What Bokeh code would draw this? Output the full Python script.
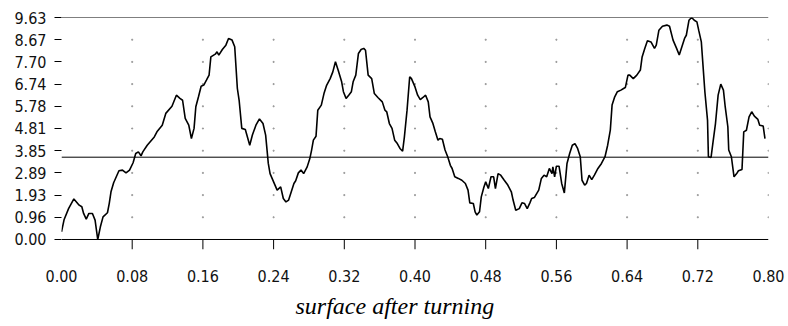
from bokeh.plotting import figure
from bokeh.models import Range1d, FixedTicker, Span, Title
from bokeh.embed import file_html
from bokeh.resources import INLINE

# ---- data ----
X = [0.000, 0.003, 0.008, 0.014, 0.020, 0.023, 0.025, 0.028, 0.031, 0.035,
     0.038, 0.041, 0.044, 0.047, 0.052, 0.054, 0.056, 0.059, 0.065, 0.069,
     0.073, 0.077, 0.081, 0.084, 0.087, 0.090, 0.092, 0.097, 0.105, 0.108,
     0.114, 0.118, 0.125, 0.130, 0.134, 0.137, 0.140, 0.144, 0.147, 0.150,
     0.152, 0.155, 0.158, 0.161, 0.164, 0.167, 0.169, 0.174, 0.176, 0.178,
     0.182, 0.186, 0.189, 0.193, 0.196, 0.199, 0.201, 0.204, 0.208, 0.213,
     0.216, 0.220, 0.224, 0.228, 0.231, 0.234, 0.236, 0.240, 0.244, 0.248,
     0.251, 0.254, 0.257, 0.260, 0.263, 0.265, 0.268, 0.271, 0.274, 0.278,
     0.281, 0.283, 0.285, 0.288, 0.290, 0.294, 0.297, 0.300, 0.304, 0.307,
     0.310, 0.313, 0.317, 0.319, 0.322, 0.325, 0.328, 0.330, 0.333, 0.336,
     0.339, 0.342, 0.344, 0.347, 0.351, 0.354, 0.358, 0.363, 0.366, 0.368,
     0.371, 0.374, 0.377, 0.380, 0.383, 0.386, 0.388, 0.391, 0.394, 0.396,
     0.400, 0.403, 0.406, 0.409, 0.412, 0.415, 0.417, 0.420, 0.423, 0.426,
     0.428, 0.431, 0.434, 0.437, 0.440, 0.442, 0.445, 0.449, 0.453, 0.457,
     0.460, 0.462, 0.466, 0.468, 0.470, 0.473, 0.475, 0.478, 0.480, 0.483,
     0.486, 0.489, 0.491, 0.494, 0.497, 0.501, 0.505, 0.509, 0.511, 0.514,
     0.518, 0.521, 0.524, 0.527, 0.530, 0.532, 0.535, 0.540, 0.543, 0.546,
     0.549, 0.552, 0.555, 0.556, 0.558, 0.560, 0.563, 0.566, 0.569, 0.572,
     0.575, 0.578, 0.581, 0.584, 0.587, 0.589, 0.592, 0.594, 0.597, 0.600,
     0.603, 0.607, 0.611, 0.615, 0.618, 0.621, 0.623, 0.626, 0.629, 0.633,
     0.636, 0.638, 0.641, 0.643, 0.647, 0.651, 0.655, 0.657, 0.660, 0.663,
     0.667, 0.671, 0.673, 0.676, 0.680, 0.685, 0.688, 0.692, 0.696, 0.699,
     0.702, 0.705, 0.707, 0.710, 0.713, 0.716, 0.719, 0.721, 0.724, 0.726,
     0.728, 0.731, 0.732, 0.735, 0.737, 0.740, 0.743, 0.746, 0.749, 0.751,
     0.754, 0.755, 0.758, 0.761, 0.764, 0.766, 0.770, 0.772, 0.775, 0.778,
     0.781, 0.784, 0.788, 0.790, 0.794, 0.796]
Y = [0.33, 0.87, 1.34, 1.76, 1.49, 1.42, 1.13, 0.88, 1.13, 1.13,
     0.84, 0.00, 0.55, 0.98, 1.16, 1.56, 2.07, 2.46, 2.98, 3.01,
     2.89, 3.01, 3.33, 3.73, 3.80, 3.63, 3.80, 4.09, 4.45, 4.67,
     4.96, 5.47, 5.78, 6.26, 6.12, 6.04, 5.25, 4.96, 4.38, 4.82,
     5.76, 6.19, 6.65, 6.70, 6.91, 7.13, 7.92, 8.04, 8.14, 8.00,
     8.24, 8.43, 8.72, 8.65, 8.36, 6.55, 6.04, 4.82, 4.77, 4.09,
     4.53, 4.96, 5.23, 5.03, 4.53, 3.30, 2.86, 2.50, 2.14, 2.28,
     1.78, 1.63, 1.71, 2.07, 2.43, 2.55, 2.89, 3.01, 2.86, 3.15,
     3.51, 3.88, 4.31, 4.48, 5.61, 5.83, 6.33, 6.69, 6.98, 7.27,
     7.71, 7.35, 6.84, 6.41, 6.12, 6.26, 6.41, 6.84, 7.13, 8.07,
     8.24, 8.29, 8.21, 7.13, 6.98, 6.33, 6.16, 5.97, 5.61, 5.54,
     5.03, 4.82, 4.31, 4.16, 3.95, 3.83, 4.45, 5.61, 7.06, 6.98,
     6.62, 6.26, 6.07, 6.16, 6.26, 5.97, 5.32, 5.06, 4.67, 4.31,
     4.38, 4.35, 3.88, 3.59, 3.22, 3.08, 2.72, 2.65, 2.57, 2.43,
     2.14, 1.59, 1.56, 1.20, 1.06, 1.20, 1.85, 2.28, 2.50, 2.21,
     2.72, 2.72, 2.21, 2.86, 2.79, 2.57, 2.36, 2.07, 1.71, 1.27,
     1.34, 1.59, 1.56, 1.34, 1.59, 1.78, 1.82, 2.14, 2.65, 2.79,
     2.72, 3.08, 2.86, 3.15, 2.72, 3.18, 3.18, 2.43, 2.02, 3.30,
     3.73, 4.09, 4.16, 3.95, 3.59, 2.57, 2.36, 2.43, 2.79, 2.60,
     2.79, 3.08, 3.30, 3.59, 4.09, 4.74, 5.83, 6.19, 6.41, 6.48,
     6.55, 6.59, 7.13, 7.13, 6.98, 7.13, 7.35, 7.92, 8.29, 8.62,
     8.57, 8.29, 8.43, 9.08, 9.25, 9.30, 9.25, 8.65, 8.29, 8.00,
     8.36, 8.72, 8.86, 9.51, 9.63, 9.51, 9.44, 9.08, 8.57, 7.49,
     6.41, 5.18, 3.59, 3.56, 4.16, 5.03, 6.26, 6.74, 6.48, 5.76,
     4.89, 3.88, 3.59, 2.72, 2.86, 2.98, 3.04, 4.67, 4.74, 5.32,
     5.54, 5.35, 5.21, 4.96, 4.92, 4.38]

MEAN = 3.57
Y_MAX = 9.63

X_TICKS = [0.00, 0.08, 0.16, 0.24, 0.32, 0.40, 0.48, 0.56, 0.64, 0.72, 0.80]
X_LABELS = ["0.00", "0.08", "0.16", "0.24", "0.32", "0.40", "0.48", "0.56",
            "0.64", "0.72", "0.80"]
Y_TICKS = [0.0, 0.963, 1.926, 2.889, 3.852, 4.815, 5.778, 6.741, 7.704, 8.667, 9.63]
Y_LABELS = ["0.00", "0.96", "1.93", "2.89", "3.85", "4.81", "5.78", "6.74",
            "7.70", "8.67", "9.63"]
TITLE = "surface after turning"

TICK_FONT = "DejaVu Sans Condensed"
TICK_SIZE = "16px"
# length of the x tick marks below the zero line, in y units (about 10 px)
X_TICK_LEN = 0.434

p = figure(width=788, height=326, output_backend="svg", toolbar_location=None,
           x_range=Range1d(0, 0.8), y_range=Range1d(-X_TICK_LEN, Y_MAX),
           min_border_left=61, min_border_right=20, min_border_top=17,
           min_border_bottom=77)
p.title.visible = False
p.outline_line_color = None
p.background_fill_color = "white"
p.border_fill_color = "white"
p.xgrid.visible = False
p.ygrid.visible = False

# y axis
ya = p.yaxis[0]
ya.ticker = FixedTicker(ticks=Y_TICKS)
ya.major_label_overrides = {t: l for t, l in zip(Y_TICKS, Y_LABELS)}
ya.axis_line_color = None
ya.major_tick_out = 7
ya.major_tick_in = 0
ya.major_tick_line_color = "black"
ya.minor_tick_line_color = None
ya.major_label_standoff = 8
ya.major_label_text_font = TICK_FONT
ya.major_label_text_font_size = TICK_SIZE
ya.major_label_text_color = "#111111"

# x axis: labels only (line and tick marks drawn below as data)
xa = p.xaxis[0]
xa.ticker = FixedTicker(ticks=X_TICKS)
xa.major_label_overrides = {t: l for t, l in zip(X_TICKS, X_LABELS)}
xa.axis_line_color = None
xa.major_tick_line_color = None
xa.minor_tick_line_color = None
xa.major_tick_out = 0
xa.major_tick_in = 0
xa.major_label_standoff = 20
xa.major_label_text_font = TICK_FONT
xa.major_label_text_font_size = TICK_SIZE
xa.major_label_text_color = "#111111"

# dotted grid at tick intersections
gx, gy = [], []
for xv in X_TICKS[1:]:
    for yv in Y_TICKS[1:-1]:
        gx.append(xv)
        gy.append(yv)
p.scatter(gx, gy, marker="square", size=1, color="#999999")

# zero line, max line and mean line
p.add_layout(Span(location=Y_TICKS[0], dimension="width", line_color="black", line_width=1))
p.add_layout(Span(location=Y_MAX, dimension="width", line_color="black", line_width=1))
p.add_layout(Span(location=MEAN, dimension="width", line_color="black", line_width=1))

# interior x tick marks below the zero line
inner = X_TICKS[1:-1]
p.segment(x0=inner, y0=[Y_TICKS[0]] * len(inner), x1=inner,
          y1=[-X_TICK_LEN] * len(inner), line_color="black", line_width=1)

# profile
p.line(X, Y, line_color="black", line_width=1.6)

# caption below
cap = Title(text=TITLE, align="left", offset=234,
            text_font="Liberation Serif", text_font_style="italic",
            text_font_size="24px", text_color="black", standoff=13)
p.add_layout(cap, "below")

open("out.html", "w").write(file_html(p, INLINE))
